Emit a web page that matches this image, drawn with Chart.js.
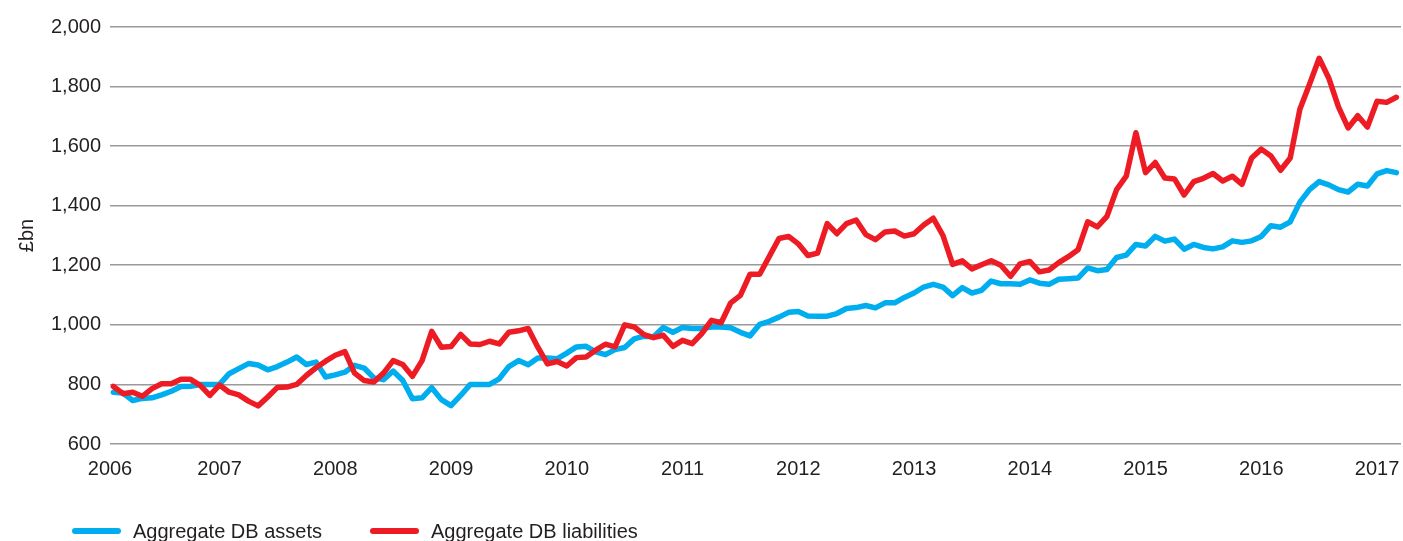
<!DOCTYPE html>
<html>
<head>
<meta charset="utf-8">
<script src="https://cdn.jsdelivr.net/npm/chart.js@4.4.1/dist/chart.umd.min.js"></script>
<style>
	html, body { margin: 0; padding: 0; background: #ffffff; }
	#wrap { position: relative; width: 1403px; height: 541px; }
	#legend {
		position: absolute; left: 0; top: 519px; height: 24px; width: 1403px;
		font-family: "Liberation Sans", Arial, sans-serif; font-size: 20px; color: #231f20;
	}
	.item { position: absolute; top: 0; height: 24px; line-height: 24px; white-space: nowrap; }
	.swatch { position: absolute; left: 0; top: 9px; width: 49px; height: 6px; border-radius: 3px; }
	.label { position: absolute; left: 61px; top: 0; }
</style>
</head>
<body>
<div id="wrap">
	<canvas id="dbChart" width="1403" height="541"></canvas>
	<div id="legend"></div>
</div>
<script>
// monthly values, Jan 2006 .. Feb 2017 (month end)
const startYear = 2006;

const seriesNames = ["Aggregate DB assets", "Aggregate DB liabilities"];
const seriesColours = ["#00aeef", "#ed1c24"];

const assets = [
	774, 771, 746, 753, 755, 765, 777, 793, 794, 800, 800, 800,
	836, 853, 870, 865, 849, 860, 875, 892, 867, 875, 825, 832,
	841, 864, 855, 822, 816, 845, 813, 752, 755, 789, 749, 729,
	763, 800, 800, 800, 819, 860, 880, 866, 889, 889, 886, 905,
	926, 928, 909, 900, 917, 924, 953, 962, 960, 991, 975, 991,
	988, 988, 993, 993, 990, 975, 963, 1002, 1012, 1026, 1042, 1045,
	1030, 1029, 1029, 1038, 1055, 1058, 1065, 1057, 1074, 1074, 1092, 1107,
	1127, 1136, 1127, 1098, 1125, 1107, 1116, 1147, 1138, 1138, 1136, 1151,
	1140, 1136, 1153, 1155, 1157, 1191, 1182, 1186, 1226, 1234, 1270, 1265,
	1297, 1281, 1288, 1254, 1270, 1260, 1255, 1262, 1282, 1277, 1282, 1297,
	1333, 1328, 1346, 1412, 1454, 1481, 1470, 1454, 1446, 1472, 1466, 1507,
	1518, 1511
];

const liabilities = [
	793, 769, 774, 760, 786, 802, 802, 817, 817, 797, 763, 798,
	774, 765, 744, 728, 758, 790, 791, 800, 830, 856, 878, 898,
	910, 838, 813, 808, 838, 880, 867, 827, 880, 978, 925, 927,
	968, 936, 934, 945, 936, 975, 980, 988, 925, 869, 877, 862,
	890, 892, 915, 935, 926, 1000, 993, 967, 957, 965, 928, 948,
	937, 971, 1015, 1007, 1074, 1099, 1170, 1170, 1230, 1290, 1297, 1272,
	1233, 1241, 1340, 1306, 1340, 1352, 1303, 1286, 1312, 1315, 1298, 1306,
	1335, 1358, 1300, 1203, 1215, 1188, 1202, 1215, 1200, 1163, 1205, 1213,
	1178, 1184, 1209, 1229, 1252, 1346, 1329, 1364, 1454, 1499, 1645, 1511,
	1545, 1493, 1490, 1436, 1481, 1492, 1508, 1483, 1499, 1472, 1560, 1590,
	1567, 1519, 1560, 1724, 1808, 1895, 1828, 1732, 1661, 1702, 1664, 1751,
	1747, 1764
];

const yearLabels = ["2006", "2007", "2008", "2009", "2010", "2011", "2012", "2013", "2014", "2015", "2016", "2017"];

const xMin = 2006.054;
const xMax = 2017.207;

function toPoints(values) {
	return values.map((v, i) => ({ x: startYear + (i + 1) / 12, y: v }));
}

document.addEventListener("DOMContentLoaded", () => {

	const fontFamily = '"Liberation Sans", Arial, sans-serif';
	const textColour = "#231f20";

	const ctx = document.getElementById("dbChart");

	window.dbChart = new Chart(ctx, {
		type: "line",
		data: {
			datasets: [
				{label: seriesNames[0], data: toPoints(assets), borderColor: seriesColours[0], borderWidth: 5.5, tension: 0, pointRadius: 0, fill: false, order: 1, borderJoinStyle: "round", borderCapStyle: "round"},
				{label: seriesNames[1], data: toPoints(liabilities), borderColor: seriesColours[1], borderWidth: 5.5, tension: 0, pointRadius: 0, fill: false, order: 0, borderJoinStyle: "round", borderCapStyle: "round"}
			]
		},
		options: {
			responsive: false,
			animation: false,
			devicePixelRatio: 1,
			layout: {
				padding: { top: 27, right: 2, bottom: 57, left: 0 }
			},
			plugins: {
				legend: { display: false },
				tooltip: { enabled: false },
				title: { display: false }
			},
			scales: {
				x: {
					type: "linear",
					min: xMin,
					max: xMax,
					grid: { display: false },
					border: { display: false },
					afterBuildTicks: (scale) => {
						scale.ticks = yearLabels.map((lab, k) => ({ value: k === 0 ? xMin : startYear + k }));
					},
					afterFit: (scale) => {
						scale.height = 40;
						// labels may hang over the edges, keep the plot area full width
						scale.paddingLeft = 0;
						scale.paddingRight = 0;
					},
					ticks: {
						autoSkip: false,
						maxRotation: 0,
						minRotation: 0,
						padding: 5,
						color: textColour,
						font: { family: fontFamily, size: 20 },
						callback: (value, index) => yearLabels[index]
					}
				},
				y: {
					min: 600,
					max: 2000,
					afterFit: (scale) => {
						scale.width = 110;
						scale.paddingTop = 0;
						scale.paddingBottom = 0;
					},
					grid: { color: "#9a9a9a", lineWidth: 1.6, drawTicks: false },
					border: { display: false },
					title: {
						display: true,
						text: "£bn",
						color: textColour,
						font: { family: fontFamily, size: 20 },
						padding: { top: 15, bottom: 0 }
					},
					ticks: {
						stepSize: 200,
						padding: 9,
						color: textColour,
						font: { family: fontFamily, size: 20 },
						callback: (value) => value.toLocaleString("en-GB")
					}
				}
			}
		}
	});

	// legend below the chart
	const legend = document.getElementById("legend");
	const itemLeft = [72, 370];
	seriesNames.forEach((name, k) => {
		const item = document.createElement("div");
		item.className = "item";
		item.style.left = itemLeft[k] + "px";
		item.innerHTML = `<span class="swatch" style="background:${seriesColours[k]}"></span><span class="label">${name}</span>`;
		legend.appendChild(item);
	});
});
</script>
</body>
</html>
